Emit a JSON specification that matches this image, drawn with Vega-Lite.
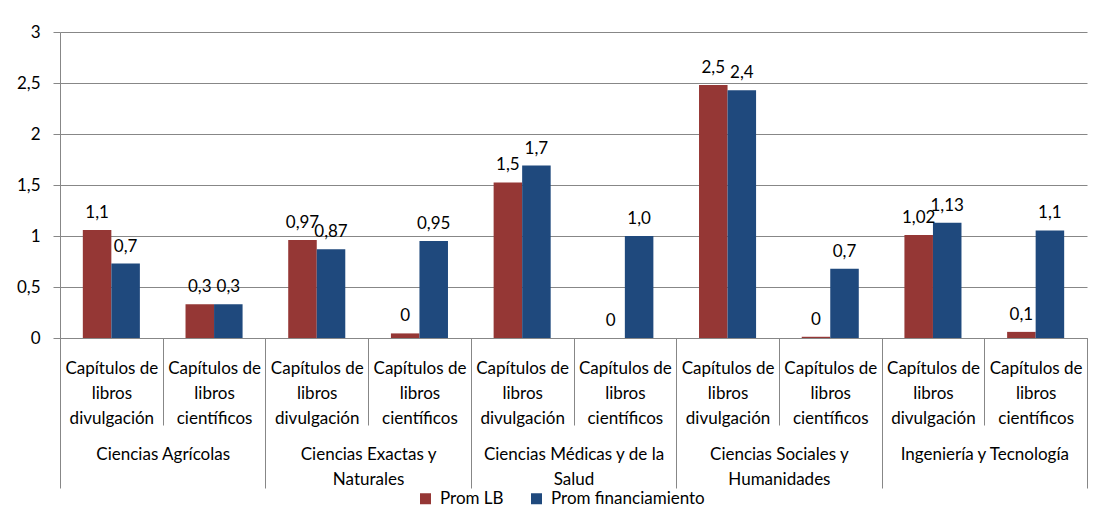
{
  "$schema": "https://vega.github.io/schema/vega-lite/v6.json",
  "width": 1027,
  "height": 306,
  "autosize": "none",
  "padding": {"left": 60, "top": 32, "right": 14, "bottom": 177},
  "background": "white",
  "config": {
    "font": "Lato",
    "locale": {"number": {"decimal": ",", "thousands": ".", "grouping": [3], "currency": ["", ""]}},
    "view": {"stroke": null},
    "axisY": {
      "domainColor": "#878787",
      "tickColor": "#878787",
      "gridColor": "#878787",
      "gridOpacity": 1,
      "tickSize": 7,
      "labelPadding": 13,
      "labelFontSize": 17,
      "labelColor": "#000000",
      "grid": true
    },
    "axisX": {
      "domainColor": "#878787",
      "labelFontSize": 17,
      "labelColor": "#000000",
      "labelAngle": 0,
      "labelLineHeight": 25,
      "labelLimit": 260,
      "grid": false
    },
    "legend": {"labelFontSize": 17, "labelColor": "#000000"}
  },
  "data": {
    "values": [
      {"area": "Ciencias Agrícolas", "cat": "Agr|div", "serie": "Prom LB", "valor": 1.06, "etiqueta": "1,1"},
      {"area": "Ciencias Agrícolas", "cat": "Agr|div", "serie": "Prom financiamiento", "valor": 0.73, "etiqueta": "0,7"},
      {"area": "Ciencias Agrícolas", "cat": "Agr|cien", "serie": "Prom LB", "valor": 0.33, "etiqueta": "0,3"},
      {"area": "Ciencias Agrícolas", "cat": "Agr|cien", "serie": "Prom financiamiento", "valor": 0.33, "etiqueta": "0,3"},
      {"area": "Ciencias Exactas y Naturales", "cat": "Exa|div", "serie": "Prom LB", "valor": 0.96, "etiqueta": "0,97"},
      {"area": "Ciencias Exactas y Naturales", "cat": "Exa|div", "serie": "Prom financiamiento", "valor": 0.87, "etiqueta": "0,87"},
      {"area": "Ciencias Exactas y Naturales", "cat": "Exa|cien", "serie": "Prom LB", "valor": 0.045, "etiqueta": "0"},
      {"area": "Ciencias Exactas y Naturales", "cat": "Exa|cien", "serie": "Prom financiamiento", "valor": 0.95, "etiqueta": "0,95"},
      {"area": "Ciencias Médicas y de la Salud", "cat": "Med|div", "serie": "Prom LB", "valor": 1.525, "etiqueta": "1,5"},
      {"area": "Ciencias Médicas y de la Salud", "cat": "Med|div", "serie": "Prom financiamiento", "valor": 1.69, "etiqueta": "1,7"},
      {"area": "Ciencias Médicas y de la Salud", "cat": "Med|cien", "serie": "Prom LB", "valor": 0, "etiqueta": "0"},
      {"area": "Ciencias Médicas y de la Salud", "cat": "Med|cien", "serie": "Prom financiamiento", "valor": 1.0, "etiqueta": "1,0"},
      {"area": "Ciencias Sociales y Humanidades", "cat": "Soc|div", "serie": "Prom LB", "valor": 2.48, "etiqueta": "2,5"},
      {"area": "Ciencias Sociales y Humanidades", "cat": "Soc|div", "serie": "Prom financiamiento", "valor": 2.43, "etiqueta": "2,4"},
      {"area": "Ciencias Sociales y Humanidades", "cat": "Soc|cien", "serie": "Prom LB", "valor": 0.012, "etiqueta": "0"},
      {"area": "Ciencias Sociales y Humanidades", "cat": "Soc|cien", "serie": "Prom financiamiento", "valor": 0.68, "etiqueta": "0,7"},
      {"area": "Ingeniería y Tecnología", "cat": "Ing|div", "serie": "Prom LB", "valor": 1.01, "etiqueta": "1,02"},
      {"area": "Ingeniería y Tecnología", "cat": "Ing|div", "serie": "Prom financiamiento", "valor": 1.13, "etiqueta": "1,13"},
      {"area": "Ingeniería y Tecnología", "cat": "Ing|cien", "serie": "Prom LB", "valor": 0.06, "etiqueta": "0,1"},
      {"area": "Ingeniería y Tecnología", "cat": "Ing|cien", "serie": "Prom financiamiento", "valor": 1.055, "etiqueta": "1,1"}
    ]
  },
  "encoding": {
    "y": {
      "field": "valor",
      "type": "quantitative",
      "title": null,
      "scale": {"domain": [0, 3], "nice": false},
      "axis": {"values": [0, 0.5, 1, 1.5, 2, 2.5, 3], "format": "~g"}
    },
    "xOffset": {
      "field": "serie",
      "type": "nominal",
      "sort": ["Prom LB", "Prom financiamiento"],
      "scale": {"paddingInner": 0, "paddingOuter": 0.8}
    }
  },
  "layer": [
    {
      "mark": {"type": "bar"},
      "encoding": {
        "x": {
          "field": "cat",
          "type": "nominal",
          "sort": ["Agr|div", "Agr|cien", "Exa|div", "Exa|cien", "Med|div", "Med|cien", "Soc|div", "Soc|cien", "Ing|div", "Ing|cien"],
          "scale": {"paddingInner": 0, "paddingOuter": 0},
          "axis": {
            "orient": "bottom",
            "title": null,
            "tickBand": "extent",
            "tickSize": 87,
            "tickColor": "#878787",
            "labelPadding": -65,
            "labelExpr": "!isString(datum.value) ? '' : indexof(datum.value, 'div') >= 0 ? ['Capítulos de', 'libros', 'divulgación'] : ['Capítulos de', 'libros', 'científicos']"
          }
        },
        "color": {
          "field": "serie",
          "type": "nominal",
          "sort": ["Prom LB", "Prom financiamiento"],
          "scale": {"domain": ["Prom LB", "Prom financiamiento"], "range": ["#953735", "#1F497D"]},
          "legend": {
            "title": null,
            "orient": "none",
            "legendX": 357,
            "legendY": 458,
            "padding": 0,
            "direction": "horizontal",
            "symbolType": "square",
            "symbolSize": 121,
            "labelOffset": 6,
            "columnPadding": 24
          }
        }
      }
    },
    {
      "mark": {"type": "text", "baseline": "alphabetic", "align": "center", "dy": -12, "fontSize": 17, "color": "#000000"},
      "encoding": {
        "x": {
          "field": "cat",
          "type": "nominal",
          "sort": ["Agr|div", "Agr|cien", "Exa|div", "Exa|cien", "Med|div", "Med|cien", "Soc|div", "Soc|cien", "Ing|div", "Ing|cien"],
          "axis": {
            "orient": "bottom",
            "title": null,
            "values": ["Agr|div", "Agr|cien", "Exa|cien", "Med|cien", "Soc|cien", "Ing|cien"],
            "tickBand": "extent",
            "tickSize": 150,
            "tickColor": {"condition": {"test": "datum.value === 'Agr|div'", "value": "rgba(0,0,0,0)"}, "value": "#878787"},
            "labelPadding": -42,
            "labelOffset": -51.35,
            "labelExpr": "!isString(datum.value) || datum.value === 'Agr|div' ? '' : indexof(datum.value, 'Agr') >= 0 ? 'Ciencias Agrícolas' : indexof(datum.value, 'Exa') >= 0 ? ['Ciencias Exactas y', 'Naturales'] : indexof(datum.value, 'Med') >= 0 ? ['Ciencias Médicas y de la', 'Salud'] : indexof(datum.value, 'Soc') >= 0 ? ['Ciencias Sociales y', 'Humanidades'] : 'Ingeniería y Tecnología'"
          }
        },
        "text": {"field": "etiqueta", "type": "nominal"}
      }
    }
  ],
  "resolve": {"axis": {"x": "independent"}}
}
